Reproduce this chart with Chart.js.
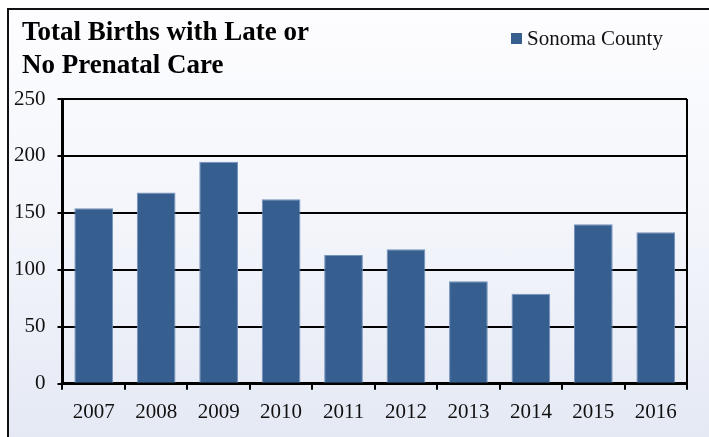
<!DOCTYPE html>
<html lang="en">
<head>
    <meta charset="UTF-8">
    <title>Total Births with Late or No Prenatal Care</title>
    <script src="https://cdn.jsdelivr.net/npm/chart.js"></script>
    <style>
        html, body { margin: 0; padding: 0; width: 709px; height: 437px; overflow: hidden; background: #fff; }
        #frame {
            position: absolute; left: 7px; top: 8px; width: 760px; height: 480px;
            border: 2px solid #111;
            background: linear-gradient(to bottom, #fdfdff 0%, #f3f5fb 45%, #e1e6f2 100%);
        }
        #wrap { position: absolute; left: 0; top: 0; width: 709px; height: 437px; }
        #legend {
            position: absolute; left: 511px; top: 26px;
            font-family: "Liberation Serif", "Times New Roman", serif; font-size: 21px; color: #111;
            white-space: nowrap;
        }
        #legend span.box {
            display: inline-block; width: 11px; height: 11px; background: #365f90;
            margin-right: 5px; vertical-align: 1px;
        }
    </style>
</head>
<body>
    <div id="frame"></div>
    <div id="wrap"><canvas id="birthsChart" width="709" height="437"></canvas></div>
    <div id="legend"><span class="box"></span>Sonoma County</div>

    <script>
        // Births with late or no prenatal care, Sonoma County
        const years = ['2007', '2008', '2009', '2010', '2011', '2012', '2013', '2014', '2015', '2016'];
        const sonomaCounty = [154, 168, 195, 162, 113, 118, 90, 79, 140, 133];
        const titleLines = ['Total Births with Late or', 'No Prenatal Care'];
        const yMax = 250;
        const yStep = 50;

        const serif = '"Liberation Serif", "Times New Roman", serif';

        // indent the title a little further than the y axis labels
        const titleIndent = {
            id: 'titleIndent',
            afterLayout(chart) {
                if (chart.titleBlock) chart.titleBlock.left = 22;
            }
        };

        const ctx = document.getElementById('birthsChart').getContext('2d');
        new Chart(ctx, {
            type: 'bar',
            data: {
                labels: years,
                datasets: [{
                    label: 'Sonoma County',
                    data: sonomaCounty,
                    backgroundColor: '#365f90',
                    borderColor: '#7391bb',
                    borderWidth: 1,
                    categoryPercentage: 1.0,
                    barPercentage: 0.62
                }]
            },
            options: {
                responsive: false,
                animation: false,
                layout: { padding: { left: 2, right: 22, top: 0, bottom: 2 } },
                plugins: {
                    legend: { display: false },
                    tooltip: { enabled: false },
                    title: {
                        display: true,
                        text: titleLines,
                        align: 'start',
                        color: '#000',
                        font: { family: serif, size: 27, weight: 'bold', lineHeight: 33 / 27 },
                        padding: { top: 17, bottom: 16 }
                    }
                },
                scales: {
                    x: {
                        offset: true,
                        grid: {
                            offset: true,
                            drawOnChartArea: true,
                            // only the closing line on the right edge is visible
                            color: c => c.tick ? 'rgba(0,0,0,0)' : '#000',
                            lineWidth: 2,
                            tickColor: '#000',
                            tickLength: 6
                        },
                        border: { display: true, color: '#000', width: 3 },
                        ticks: { color: '#111', font: { family: serif, size: 21 }, padding: 10, maxRotation: 0 }
                    },
                    y: {
                        min: 0,
                        max: yMax,
                        grid: { color: '#000', lineWidth: 2, tickLength: 5 },
                        border: { display: true, color: '#000', width: 3 },
                        ticks: { stepSize: yStep, color: '#111', font: { family: serif, size: 21 }, padding: 12 }
                    }
                }
            },
            plugins: [titleIndent]
        });
    </script>
</body>
</html>
